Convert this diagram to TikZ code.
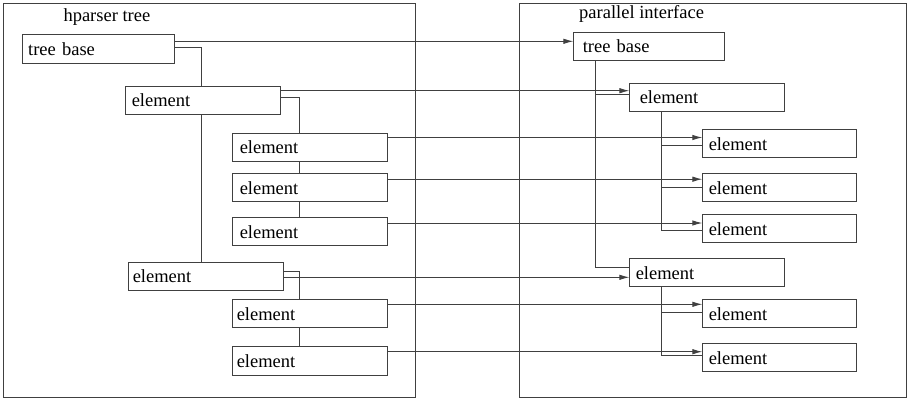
\documentclass[tikz,border=0pt]{standalone}
\usepackage{fontspec}
\setmainfont{Liberation Serif}
\newfontfamily\tms{Liberation Serif}
\usetikzlibrary{arrows.meta}
\definecolor{lc}{HTML}{404040}
\tikzset{
  ln/.style={draw=lc, line width=0.9pt},
  arr/.style={ln, -{Latex[length=10pt,width=5.5pt]}},
  bx/.style 2 args={ln, anchor=north west, inner ysep=0pt, minimum height=28pt,
    inner xsep=#2, text width=#1, align=left, font=\tms\fontsize{18.5}{22}\selectfont},
  panel/.style={ln, anchor=north west, inner sep=0pt},
  ttl/.style={anchor=base west, inner sep=0pt, font=\tms\fontsize{18.5}{22}\selectfont}
}
\begin{document}
\begin{tikzpicture}[x=1pt,y=-1pt]
\useasboundingbox (0,0) rectangle (910,400);
% panels
\node[panel, minimum width=412pt, minimum height=394pt] (lp) at (3,3) {};
\node[panel, minimum width=387pt, minimum height=394pt] (rp) at (519.3,3) {};
\node[ttl] (lt) at (63.3,21.7) {hparser tree};
\node[ttl] (rt) at (579,18.3) {parallel interface};
% left boxes
\node[bx={140pt}{6pt}, minimum height=29.5pt] (LT) at (21.7,33.5) {tree base};
\node[bx={143pt}{6pt}] (L1) at (125.3,85.7) {element};
\node[bx={141pt}{7pt}] (L2) at (232.3,132.7) {element};
\node[bx={141pt}{7pt}] (L3) at (232.3,173.3) {element};
\node[bx={141pt}{7pt}] (L4) at (232.3,217.3) {element};
\node[bx={147pt}{4pt}] (L5) at (128.3,261.7) {element};
\node[bx={147pt}{4pt}] (L6) at (232.3,299.3) {element};
\node[bx={147pt}{4pt}, minimum height=29pt] (L7) at (232.3,346) {element};
% right boxes
\node[bx={133pt}{9pt}] (RT) at (573.3,31.7) {tree base};
\node[bx={135pt}{10pt}] (R1) at (629.3,82.7) {element};
\node[bx={142pt}{6pt}] (R2) at (702.3,129.3) {element};
\node[bx={142pt}{6pt}] (R3) at (702.3,173.3) {element};
\node[bx={142pt}{6pt}] (R4) at (702.3,214.3) {element};
\node[bx={143pt}{6pt}] (R5) at (629.3,258.3) {element};
\node[bx={142pt}{6pt}] (R6) at (702.3,299.3) {element};
\node[bx={142pt}{6pt}] (R7) at (702.3,343.3) {element};
% left tree connectors
\draw[ln] (LT.east |- 0,47.3) -| (201.3,0 |- L1.north);
\draw[ln] (L1.east |- 0,97.7) -| (299.3,0 |- L2.north);
\draw[ln] (299.3,0 |- L2.south) -- (299.3,0 |- L3.north);
\draw[ln] (299.3,0 |- L3.south) -- (299.3,0 |- L4.north);
\draw[ln] (201.3,0 |- L1.south) -- (201.3,0 |- L5.north);
\draw[ln] (L5.east |- 0,271) -| (299.3,0 |- L6.north);
\draw[ln] (299.3,0 |- L6.south) -- (299.3,0 |- L7.north);
% right tree connectors
\draw[ln] (595.7,0 |- RT.south) |- (R1.west |- 0,94.3);
\draw[ln] (595.7,0 |- RT.south) |- (R5.west |- 0,267.7);
\draw[ln] (661.7,0 |- R1.south) |- (R2.west |- 0,145);
\draw[ln] (661.7,0 |- R1.south) |- (R3.west |- 0,187.3);
\draw[ln] (661.7,0 |- R1.south) |- (R4.west |- 0,230);
\draw[ln] (661.7,0 |- R5.south) |- (R6.west |- 0,312.3);
\draw[ln] (661.7,0 |- R5.south) |- (R7.west |- 0,355.7);
% mapping arrows
\draw[arr] (LT.east |- 0,41.3) -- (RT.west |- 0,41.3);
\draw[arr] (L1.east |- 0,90.7) -- (R1.west |- 0,90.7);
\draw[arr] (L2.east |- 0,137.5) -- (R2.west |- 0,137.5);
\draw[arr] (L3.east |- 0,179.2) -- (R3.west |- 0,179.2);
\draw[arr] (L4.east |- 0,223) -- (R4.west |- 0,223);
\draw[arr] (L5.east |- 0,277.3) -- (R5.west |- 0,277.3);
\draw[arr] (L6.east |- 0,304.3) -- (R6.west |- 0,304.3);
\draw[arr] (L7.east |- 0,351.7) -- (R7.west |- 0,351.7);
\end{tikzpicture}
\end{document}
